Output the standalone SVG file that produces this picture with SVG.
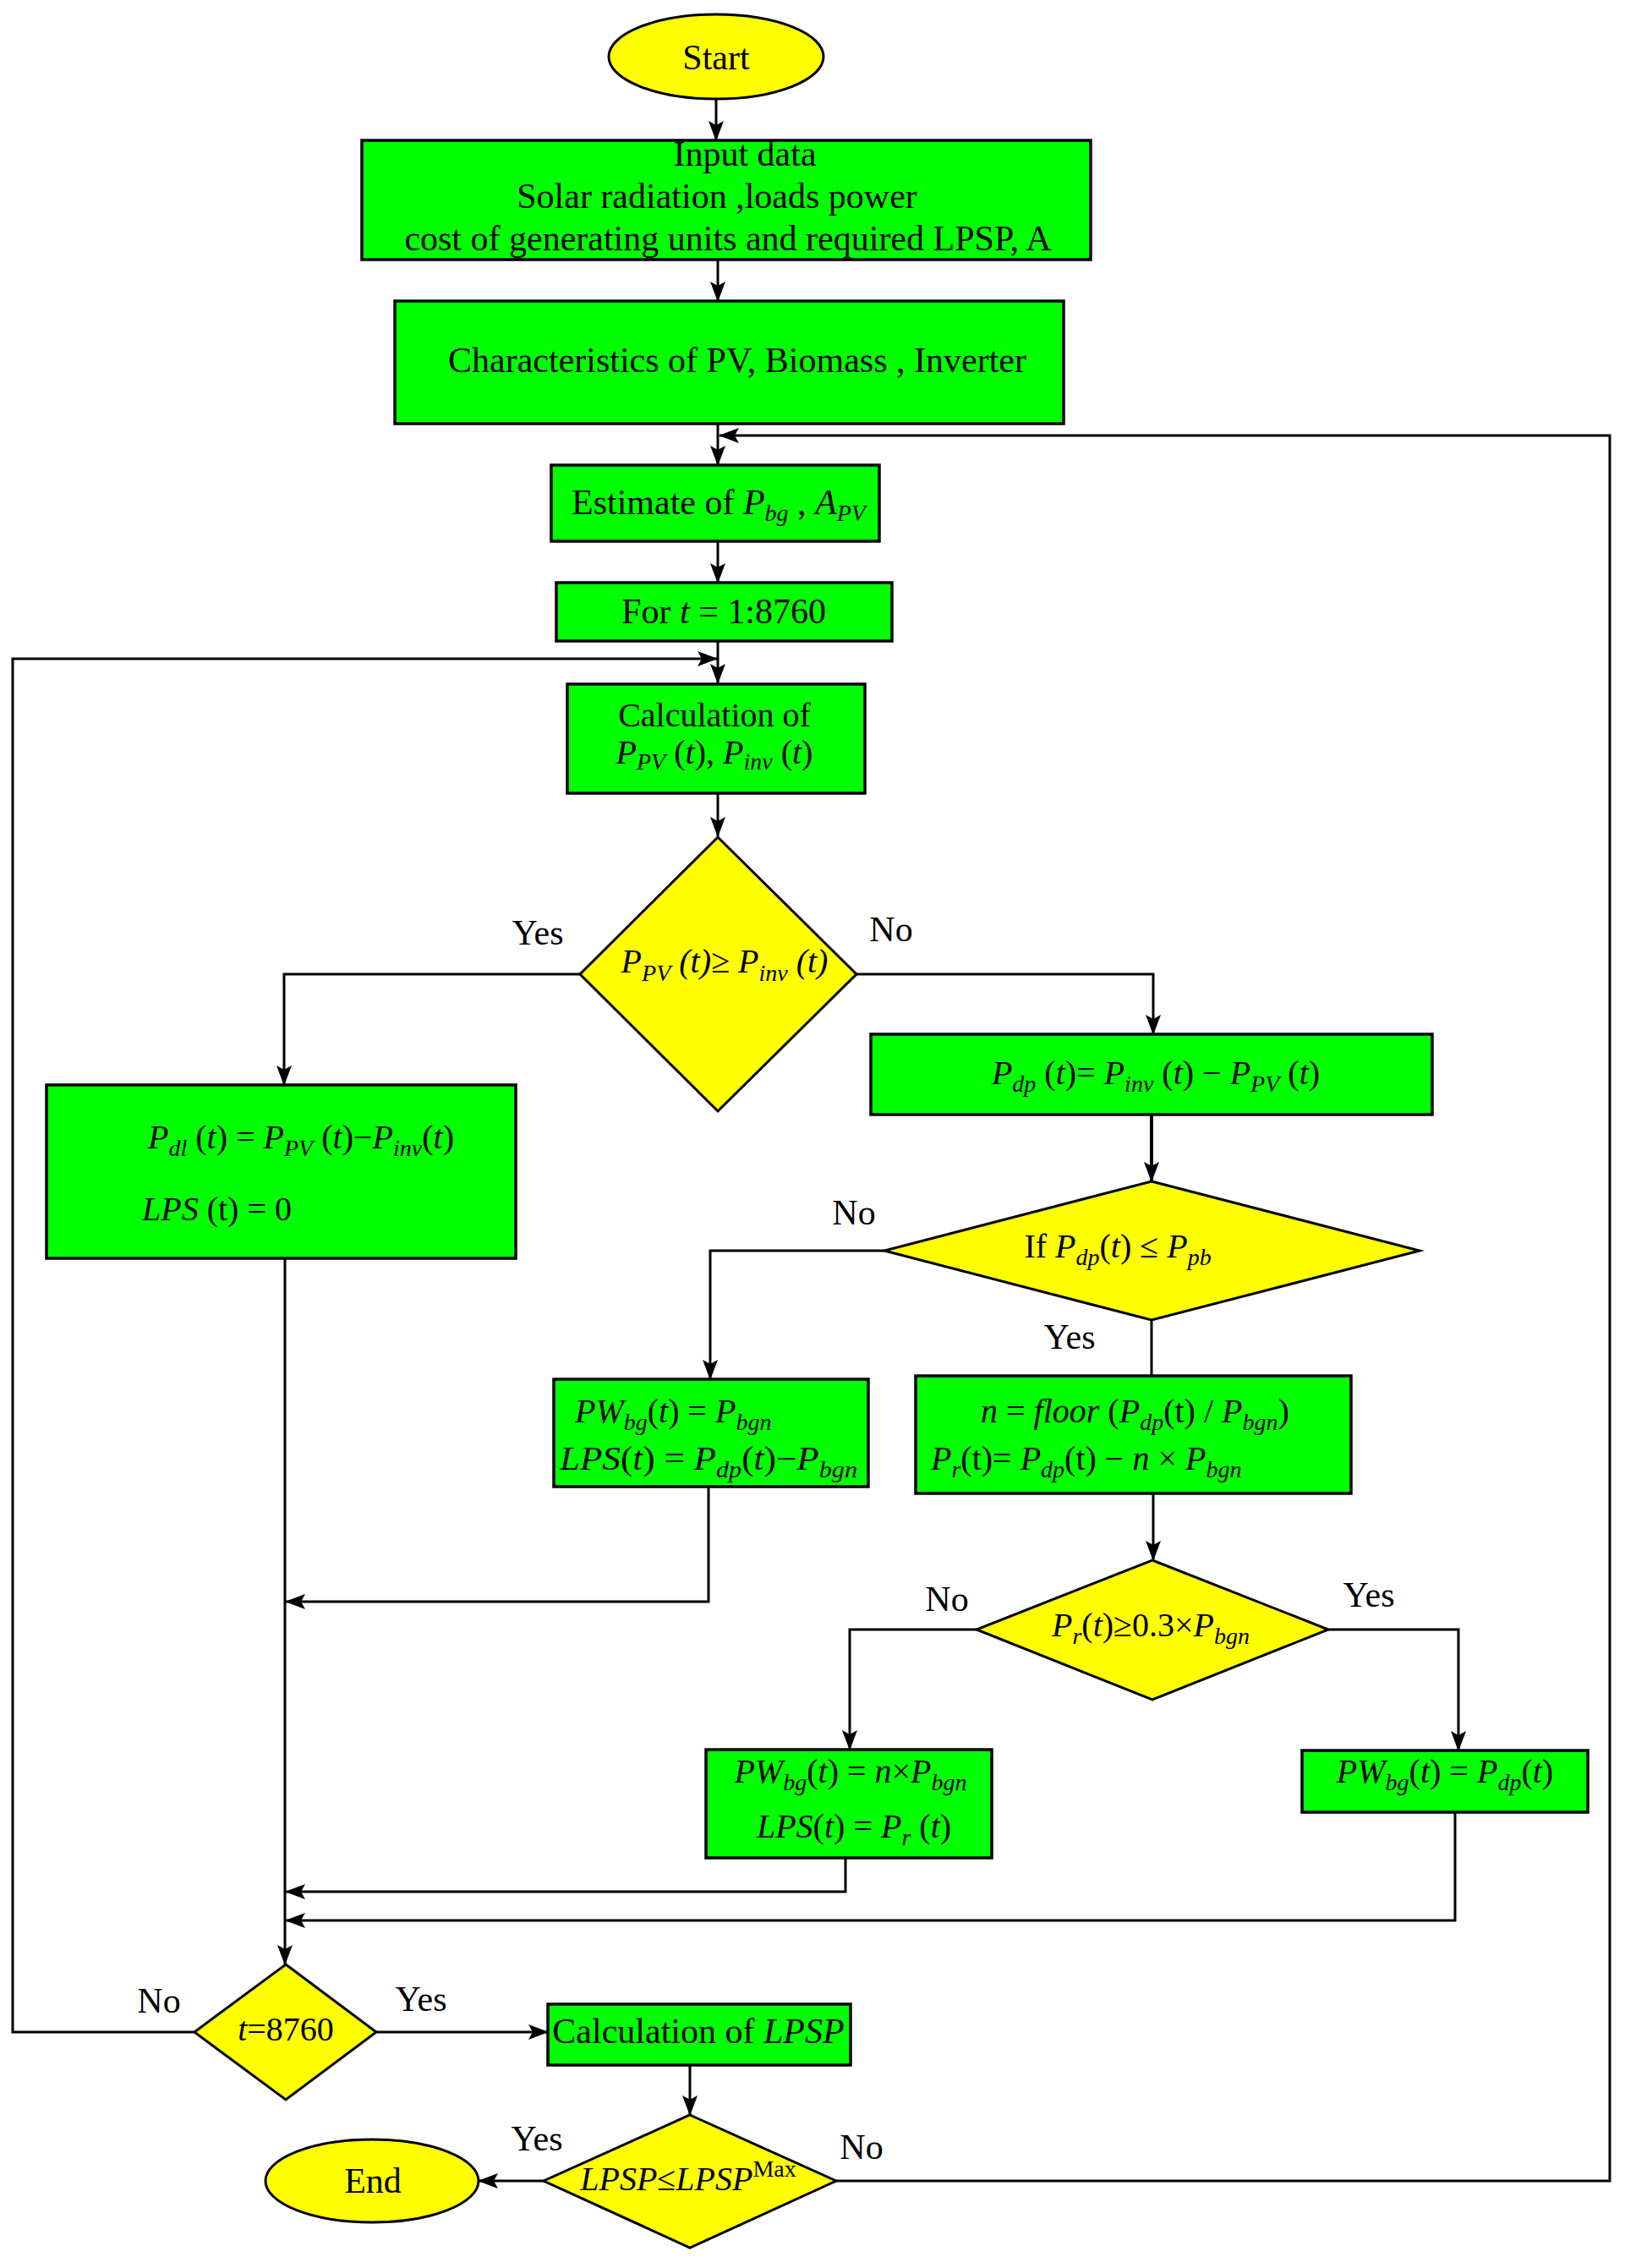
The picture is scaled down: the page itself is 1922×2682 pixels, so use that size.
<svg xmlns="http://www.w3.org/2000/svg" width="1922" height="2682" viewBox="0 0 1922 2682">
<style>
.t{font-family:"Liberation Serif","Times New Roman",serif;font-size:42px;fill:#000}
.m{font-size:40px}
.i{font-style:italic}
.s{font-size:28px}
.box{fill:#00ff00;stroke:#000;stroke-width:3.5}
.dec{fill:#ffff00;stroke:#000;stroke-width:3}
.ln{fill:none;stroke:#000;stroke-width:3}
.ar{marker-end:url(#ah)}
</style>
<defs>
<marker id="ah" viewBox="0 0 24 18" refX="23" refY="9" markerWidth="24" markerHeight="18" orient="auto" markerUnits="userSpaceOnUse">
<path d="M0,0 L24,9 L0,18 L5,9 z" fill="#000"/>
</marker>
</defs>
<rect width="1922" height="2682" fill="#fff"/>

<g id="connectors">
<path class="ln ar" d="M847,118 V166"/>
<path class="ln ar" d="M849,307 V356"/>
<path class="ln ar" d="M849,501 V550"/>
<path class="ln ar" d="M989,2579 H1904 V515 H851"/>
<path class="ln ar" d="M849,640 V689"/>
<path class="ln ar" d="M849,759 V808"/>
<path class="ln ar" d="M230,2403 H15 V779 H848"/>
<path class="ln ar" d="M849,939 V989"/>
<path class="ln ar" d="M686,1152 H336 V1283"/>
<path class="ln ar" d="M1013,1152 H1364 V1223"/>
<path class="ln ar" style="stroke-width:4" d="M1362,1319 V1397"/>
<path class="ln ar" d="M1046,1479 H840 V1631"/>
<path class="ln" d="M1362,1561 V1628"/>
<path class="ln ar" d="M1364,1766 V1845"/>
<path class="ln ar" d="M838,1758 V1894 H338"/>
<path class="ln ar" d="M1155,1927 H1005 V2069"/>
<path class="ln ar" d="M1571,1927 H1725 V2070"/>
<path class="ln ar" d="M1000,2197 V2237 H338"/>
<path class="ln ar" d="M1721,2143 V2271 H338"/>
<path class="ln ar" d="M337,1489 V2323"/>
<path class="ln ar" d="M445,2403 H648"/>
<path class="ln ar" d="M816,2442 V2501"/>
<path class="ln ar" d="M643,2579 H566"/>
</g>

<g id="start">
<ellipse class="dec" cx="847" cy="67" rx="127" ry="50"/>
<text class="t" x="847" y="82" text-anchor="middle">Start</text>
</g>

<g id="input">
<rect class="box" x="428" y="166" width="862" height="141"/>
<text class="t" x="881" y="196" text-anchor="middle">Input data</text>
<text class="t" x="848" y="246" text-anchor="middle">Solar radiation ,loads power</text>
<text class="t" x="861" y="296" text-anchor="middle">cost of generating units and required LPSP, A</text>
</g>

<g id="characteristics">
<rect class="box" x="467" y="356" width="791" height="145"/>
<text class="t" x="872" y="440" text-anchor="middle">Characteristics of PV, Biomass , Inverter</text>
</g>

<g id="estimate">
<rect class="box" x="652" y="550" width="388" height="90"/>
<text class="t" x="850" y="608" text-anchor="middle">Estimate of <tspan class="i">P</tspan><tspan class="i s" dy="8">bg</tspan><tspan dy="-8"> , </tspan><tspan class="i">A</tspan><tspan class="i s" dy="8">PV</tspan></text>
</g>

<g id="for">
<rect class="box" x="658" y="689" width="397" height="69"/>
<text class="t" x="856" y="737" text-anchor="middle">For <tspan class="i">t</tspan> = 1:8760</text>
</g>

<g id="calc">
<rect class="box" x="671" y="809" width="352" height="129"/>
<text class="t m" x="845" y="859" text-anchor="middle">Calculation of</text>
<text class="t m" x="845" y="903" text-anchor="middle"><tspan class="i">P</tspan><tspan class="i s" dy="7">PV</tspan><tspan dy="-7"> (</tspan><tspan class="i">t</tspan>), <tspan class="i">P</tspan><tspan class="i s" dy="7">inv</tspan><tspan dy="-7"> (</tspan><tspan class="i">t</tspan>)</text>
</g>

<g id="dec1">
<polygon class="dec" points="849,990 1013,1152 849,1314 686,1152"/>
<text class="t m i" x="857" y="1150" text-anchor="middle">P<tspan class="s" dy="10">PV</tspan><tspan dy="-10"> (t)≥ P</tspan><tspan class="s" dy="10">inv</tspan><tspan dy="-10"> (t)</tspan></text>
<text class="t" x="636" y="1117" text-anchor="middle">Yes</text>
<text class="t" x="1054" y="1113" text-anchor="middle">No</text>
</g>

<g id="pdl">
<rect class="box" x="55" y="1283" width="555" height="205"/>
<text class="t m" x="175" y="1358"><tspan class="i">P</tspan><tspan class="i s" dy="9">dl</tspan><tspan dy="-9"> (</tspan><tspan class="i">t</tspan>)  = <tspan class="i">P</tspan><tspan class="i s" dy="9">PV</tspan><tspan dy="-9"> (</tspan><tspan class="i">t</tspan>)−<tspan class="i">P</tspan><tspan class="i s" dy="9">inv</tspan><tspan dy="-9">(</tspan><tspan class="i">t</tspan>)</text>
<text class="t m" x="168" y="1443"><tspan class="i">LPS</tspan> (t) = 0</text>
</g>

<g id="pdp">
<rect class="box" x="1030" y="1223" width="664" height="95"/>
<text class="t m" x="1367" y="1282" text-anchor="middle"><tspan class="i">P</tspan><tspan class="i s" dy="9">dp</tspan><tspan dy="-9"> (</tspan><tspan class="i">t</tspan>)= <tspan class="i">P</tspan><tspan class="i s" dy="9">inv</tspan><tspan dy="-9"> (</tspan><tspan class="i">t</tspan>) − <tspan class="i">P</tspan><tspan class="i s" dy="9">PV</tspan><tspan dy="-9"> (</tspan><tspan class="i">t</tspan>)</text>
</g>

<g id="dec2">
<polygon class="dec" points="1362,1397 1679,1479 1362,1561 1046,1479"/>
<text class="t m" x="1322" y="1487" text-anchor="middle">If  <tspan class="i">P</tspan><tspan class="i s" dy="9">dp</tspan><tspan dy="-9">(</tspan><tspan class="i">t</tspan>) ≤  <tspan class="i">P</tspan><tspan class="i s" dy="9">pb</tspan></text>
<text class="t" x="1010" y="1448" text-anchor="middle">No</text>
<text class="t" x="1265" y="1595" text-anchor="middle">Yes</text>
</g>

<g id="pwbg1">
<rect class="box" x="655" y="1631" width="372" height="127"/>
<text class="t m" x="680" y="1682"><tspan class="i">PW</tspan><tspan class="i s" dy="9">bg</tspan><tspan dy="-9">(</tspan><tspan class="i">t</tspan>) = <tspan class="i">P</tspan><tspan class="i s" dy="9">bgn</tspan></text>
<text class="t m" x="662" y="1738" textLength="352" lengthAdjust="spacingAndGlyphs"><tspan class="i">LPS</tspan>(<tspan class="i">t</tspan>) = <tspan class="i">P</tspan><tspan class="i s" dy="9">dp</tspan><tspan dy="-9">(</tspan><tspan class="i">t</tspan>)−<tspan class="i">P</tspan><tspan class="i s" dy="9">bgn</tspan></text>
</g>

<g id="nfloor">
<rect class="box" x="1083" y="1627" width="515" height="139"/>
<text class="t m" x="1160" y="1682"><tspan class="i">n</tspan> = <tspan class="i">floor</tspan> (<tspan class="i">P</tspan><tspan class="i s" dy="9">dp</tspan><tspan dy="-9">(t) / </tspan><tspan class="i">P</tspan><tspan class="i s" dy="9">bgn</tspan><tspan dy="-9">)</tspan></text>
<text class="t m" x="1101" y="1738"><tspan class="i">P</tspan><tspan class="i s" dy="9">r</tspan><tspan dy="-9">(t)= </tspan><tspan class="i">P</tspan><tspan class="i s" dy="9">dp</tspan><tspan dy="-9">(t) − </tspan><tspan class="i">n</tspan> × <tspan class="i">P</tspan><tspan class="i s" dy="9">bgn</tspan></text>
</g>

<g id="dec3">
<polygon class="dec" points="1363,1845 1571,1927 1363,2010 1155,1927"/>
<text class="t m" x="1361" y="1935" text-anchor="middle"><tspan class="i">P</tspan><tspan class="i s" dy="9">r</tspan><tspan dy="-9">(</tspan><tspan class="i">t</tspan>)≥0.3×<tspan class="i">P</tspan><tspan class="i s" dy="9">bgn</tspan></text>
<text class="t" x="1120" y="1905" text-anchor="middle">No</text>
<text class="t" x="1619" y="1900" text-anchor="middle">Yes</text>
</g>

<g id="pwbg2">
<rect class="box" x="835" y="2069" width="338" height="128"/>
<text class="t m" x="1006" y="2108" text-anchor="middle"><tspan class="i">PW</tspan><tspan class="i s" dy="9">bg</tspan><tspan dy="-9">(</tspan><tspan class="i">t</tspan>) = <tspan class="i">n</tspan>×<tspan class="i">P</tspan><tspan class="i s" dy="9">bgn</tspan></text>
<text class="t m" x="1010" y="2173" text-anchor="middle"><tspan class="i">LPS</tspan>(<tspan class="i">t</tspan>) = <tspan class="i">P</tspan><tspan class="i s" dy="9">r</tspan><tspan dy="-9"> (</tspan><tspan class="i">t</tspan>)</text>
</g>

<g id="pwbg3">
<rect class="box" x="1540" y="2070" width="338" height="73"/>
<text class="t m" x="1709" y="2108" text-anchor="middle"><tspan class="i">PW</tspan><tspan class="i s" dy="9">bg</tspan><tspan dy="-9">(</tspan><tspan class="i">t</tspan>) = <tspan class="i">P</tspan><tspan class="i s" dy="9">dp</tspan><tspan dy="-9">(</tspan><tspan class="i">t</tspan>)</text>
</g>

<g id="dec4">
<polygon class="dec" points="338,2323 445,2403 338,2483 230,2403"/>
<text class="t m" x="338" y="2413" text-anchor="middle"><tspan class="i">t</tspan>=8760</text>
<text class="t" x="188" y="2380" text-anchor="middle">No</text>
<text class="t" x="498" y="2378" text-anchor="middle">Yes</text>
</g>

<g id="calclpsp">
<rect class="box" x="648" y="2370" width="358" height="72"/>
<text class="t" x="826" y="2416" text-anchor="middle">Calculation of <tspan class="i">LPSP</tspan></text>
</g>

<g id="dec5">
<polygon class="dec" points="816,2501 989,2579 816,2658 643,2579"/>
<text class="t m" x="814" y="2590" text-anchor="middle"><tspan class="i">LPSP</tspan>≤<tspan class="i">LPSP</tspan><tspan class="s" dy="-16">Max</tspan></text>
<text class="t" x="635" y="2543" text-anchor="middle">Yes</text>
<text class="t" x="1019" y="2553" text-anchor="middle">No</text>
</g>

<g id="end">
<ellipse class="dec" cx="440" cy="2579" rx="126" ry="49"/>
<text class="t" x="441" y="2593" text-anchor="middle">End</text>
</g>
</svg>
